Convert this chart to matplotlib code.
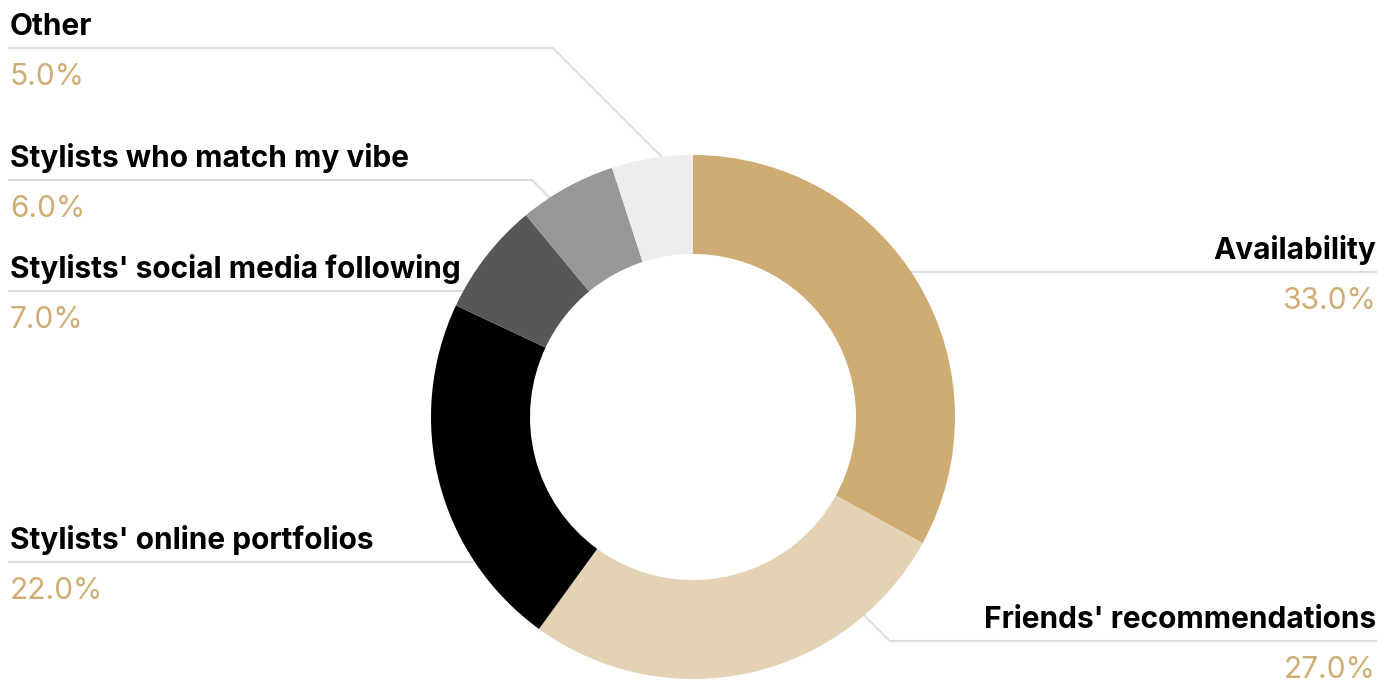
import numpy as np
import matplotlib.pyplot as plt

# survey shares, clockwise from 12 o'clock
labels = ["Availability", "Friends' recommendations", "Stylists' online portfolios",
          "Stylists' social media following", "Stylists who match my vibe", "Other"]
shares = [33.0, 27.0, 22.0, 7.0, 6.0, 5.0]
colors = ["#CFAC73", "#E3D3B4", "#000000", "#575757", "#989797", "#EEEDEB"]

# label layout (pixel rows from the top, leader elbows)
W, H = 1395, 681
line_rows = [272, 641, 562, 291, 180, 48]
sides = ["right", "right", "left", "left", "left", "left"]
elbows = [None, 890, None, None, 532, 553]

CX, CY = 693, H - 417
R_OUT, R_IN = 262, 163

GOLD = "#D0AD75"
LINE = "#DDDDDD"
NAME_FONT = dict(family=["Inter", "DejaVu Sans"], weight="bold", size=21.5, color="#000000")
PCT_FONT = dict(family=["Inter", "DejaVu Sans"], size=21.5, color=GOLD)

fig = plt.figure(figsize=(W / 100, H / 100), dpi=100)
ax = fig.add_axes([0, 0, 1, 1])

ax.pie(shares, colors=colors, startangle=90, counterclock=False,
       center=(CX, CY), radius=R_OUT, frame=True,
       wedgeprops=dict(width=R_OUT - R_IN, linewidth=0, zorder=3))


def hit_circle(px, py, dx, dy, r):
    # distance along (dx, dy) from (px, py) to the circle around the centre
    n = np.hypot(dx, dy)
    dx, dy = dx / n, dy / n
    fx, fy = px - CX, py - CY
    b = fx * dx + fy * dy
    c = fx * fx + fy * fy - r * r
    t = -b - np.sqrt(b * b - c)
    return px + t * dx, py + t * dy


for name, val, row, side, ex in zip(labels, shares, line_rows, sides, elbows):
    y = H - row
    if side == "left":
        x0, ha, tx, sgn = 8, "left", 10, 1
    else:
        x0, ha, tx, sgn = 1377, "right", 1376, -1

    r_end = R_OUT - 4
    if ex is None:
        x1, y1 = hit_circle(x0, y, sgn, 0, r_end)
        xs, ys = [x0, x1], [y, y1]
    else:
        dy = -1 if y > CY else 1
        x2, y2 = hit_circle(ex, y, sgn, dy, r_end)
        xs, ys = [x0, ex, x2], [y, y, y2]
    ax.plot(xs, ys, color=LINE, lw=1.5, zorder=1, solid_capstyle="butt")

    ax.text(tx, y + 13, name, ha=ha, va="baseline", **NAME_FONT)
    ax.text(tx, y - 37, f"{val:.1f}%", ha=ha, va="baseline", **PCT_FONT)

ax.set_xlim(0, W)
ax.set_ylim(0, H)
ax.set_aspect("equal")
ax.axis("off")

fig.savefig("out.png", dpi=100, facecolor="white")
